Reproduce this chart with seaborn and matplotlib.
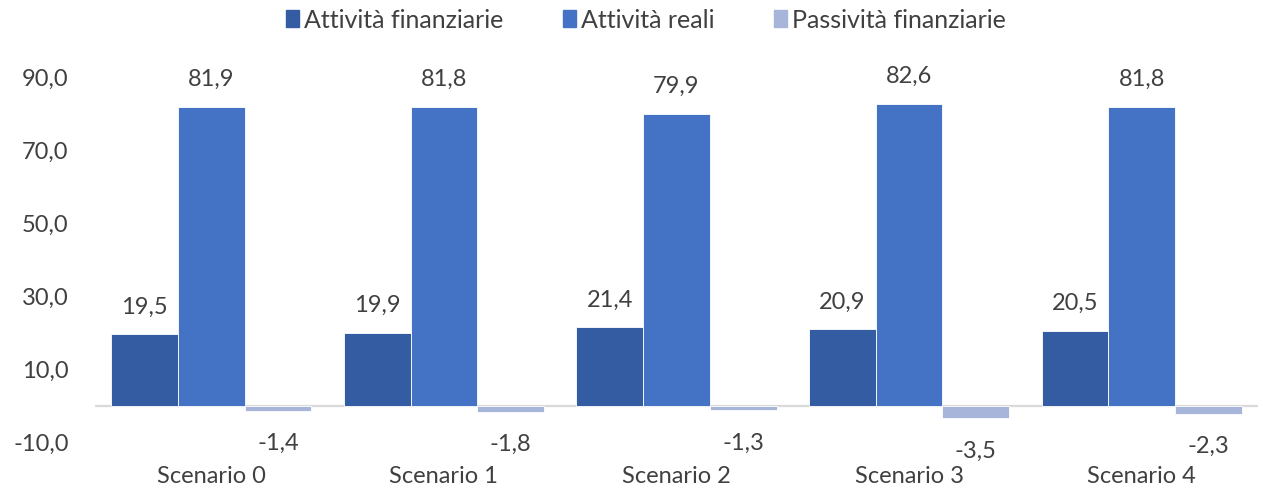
import pandas as pd
import numpy as np
import matplotlib.pyplot as plt
import seaborn as sns

scenari = ['Scenario 0', 'Scenario 1', 'Scenario 2', 'Scenario 3', 'Scenario 4']
att_finanziarie = [19.5, 19.9, 21.4, 20.9, 20.5]
att_reali = [81.9, 81.8, 79.9, 82.6, 81.8]
pass_finanziarie = [-1.4, -1.8, -1.3, -3.5, -2.3]
serie = ['Attività finanziarie', 'Attività reali', 'Passività finanziarie']
colori = ['#335CA3', '#4472C4', '#A7B5DB']
y_ticks = [-10, 10, 30, 50, 70, 90]

df = pd.DataFrame({
    'Scenario': scenari * 3,
    'Serie': [serie[0]] * 5 + [serie[1]] * 5 + [serie[2]] * 5,
    'Valore': att_finanziarie + att_reali + pass_finanziarie,
})

sns.set_style('white')
plt.rcParams['font.family'] = ['Lato', 'DejaVu Sans']
testo = '#404040'

fig = plt.figure(figsize=(12.63, 4.94), dpi=100)
ax = fig.add_axes([95 / 1263, 52 / 494, 1163 / 1263, 365 / 494])

sns.barplot(data=df, x='Scenario', y='Valore', hue='Serie', hue_order=serie,
            palette=colori, width=0.86, saturation=1, ax=ax, legend=False,
            edgecolor='white', linewidth=0.6)

ax.axhline(0, color='#D9D9D9', lw=1.6, zorder=0.5)

for cont in ax.containers:
    vals = cont.datavalues
    labs = [f'{v:.1f}'.replace('.', ',') for v in vals]
    pad = 16 if vals[0] < 0 else 12
    ax.bar_label(cont, labels=labs, padding=pad, fontsize=17, color=testo)

ax.set_ylim(-10, 90)
ax.set_yticks(y_ticks)
ax.set_yticklabels([f'{t:.1f}'.replace('.', ',') for t in y_ticks])
ax.tick_params(axis='y', length=0, pad=19, labelsize=17, labelcolor=testo)
ax.tick_params(axis='x', length=0, pad=17, labelsize=17, labelcolor=testo)
ax.set_xlabel('')
ax.set_ylabel('')
sns.despine(ax=ax, left=True, bottom=True, top=True, right=True)

handles = [plt.Rectangle((0, 0), 1, 1, color=c) for c in colori]
fig.legend(handles, serie, loc='center', bbox_to_anchor=(646 / 1263, 1 - 20 / 494),
           ncol=3, frameon=False, fontsize=18, labelcolor=testo,
           handlelength=0.5, handleheight=0.65, handletextpad=0.2, columnspacing=2.4)

fig.savefig('out.png', dpi=100)
